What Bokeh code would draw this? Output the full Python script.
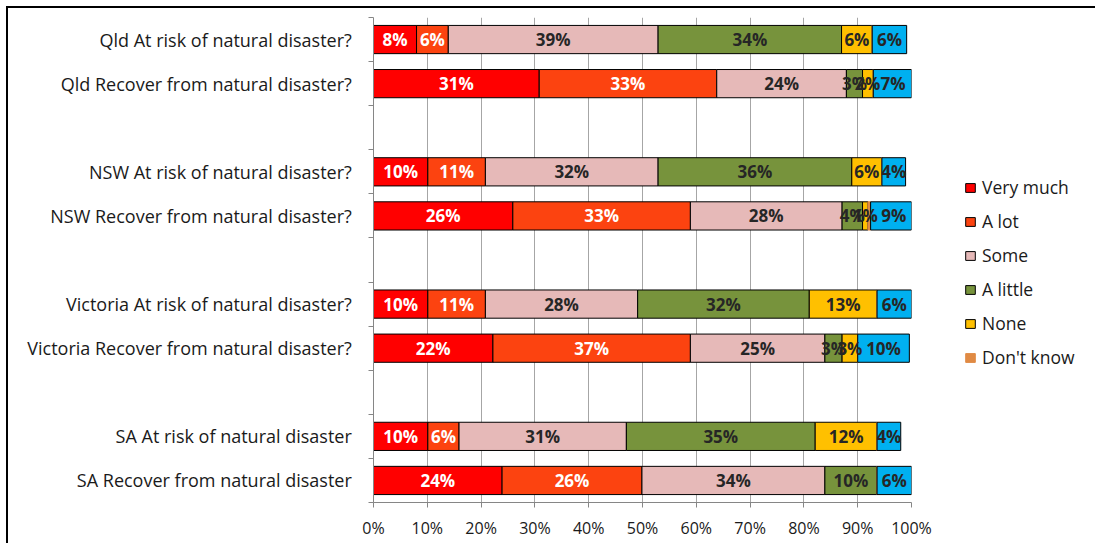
import numpy as np
from bokeh.plotting import figure
from bokeh.models import (ColumnDataSource, Range1d, FixedTicker, PrintfTickFormatter,
                          Legend, LegendItem)
from bokeh.core.properties import value
from bokeh.embed import file_html
from bokeh.resources import INLINE

# ---- data ----
categories = [
    "Qld At risk of natural  disaster?",
    "Qld Recover from natural  disaster?",
    "NSW At risk of natural  disaster?",
    "NSW Recover from natural  disaster?",
    "Victoria At risk of natural  disaster?",
    "Victoria Recover from natural  disaster?",
    "SA At risk of natural  disaster",
    "SA Recover from natural  disaster",
]
very_much = [8.0, 30.8, 10.1, 25.9, 10.1, 22.2, 10.1, 23.9]
a_lot = [5.9, 33.0, 10.7, 33.0, 10.7, 36.7, 5.8, 26.0]
some = [39.0, 24.1, 32.1, 28.2, 28.3, 25.0, 31.1, 34.0]
a_little = [34.1, 3.0, 36.0, 3.8, 31.9, 3.2, 35.1, 9.7]
none = [5.7, 2.0, 5.6, 1.0, 12.6, 2.9, 11.5, 0.0]
dont_know = [0.0, 0.0, 0.0, 0.5, 0.0, 0.0, 0.0, 0.0]
other = [6.4, 7.3, 4.4, 8.6, 6.4, 9.6, 4.4, 6.4]

series_names = ["Very much", "A lot", "Some", "A little", "None", "Don't know", ""]
series_values = [very_much, a_lot, some, a_little, none, dont_know, other]
x_ticks = [0, 10, 20, 30, 40, 50, 60, 70, 80, 90, 100]

# ---- style ----
colors = ["#FF0000", "#FC4310", "#E6B9B8", "#77933C", "#FFC000", "#E08A44", "#00B0F0"]
outline = ["black", "black", "black", "black", "black", "#E08A44", "black"]
label_colors = ["white", "white", "#262626", "#262626", "#262626", "#262626", "#262626"]
FONT = "Open Sans"

# row positions: blank slot between each state group
ypos = [0, 1, 3, 4, 6, 7, 9, 10]
bounds = [i - 0.5 for i in range(12)]

p = figure(output_backend="svg", toolbar_location=None,
           frame_width=538, frame_height=485,
           min_border_left=365, min_border_right=182,
           min_border_top=9, min_border_bottom=41,
           x_range=Range1d(0, 100), y_range=Range1d(10.5, -0.5))
p.styles = {"border-top": "2px solid black", "border-left": "2px solid black",
            "margin-left": "6px", "margin-top": "6px"}
p.background_fill_color = "white"
p.border_fill_color = "white"
p.outline_line_color = None

left = np.zeros(len(categories))
legend_items = []
lx, ly, lt, lc = [], [], [], []
for name, vals, col, oc, tc in zip(series_names, series_values, colors, outline, label_colors):
    vals = np.array(vals, dtype=float)
    src = ColumnDataSource(dict(y=ypos, left=left.copy(), right=left + vals))
    r = p.hbar(y="y", left="left", right="right", height=0.64, source=src,
               fill_color=col, line_color=oc, line_width=1)
    if name:
        legend_items.append(LegendItem(label=name, renderers=[r]))
    for i, v in enumerate(vals):
        if round(v) >= 1:
            lx.append(left[i] + v / 2)
            ly.append(ypos[i])
            lt.append(f"{round(v)}%")
            lc.append(tc)
    left = left + vals

lsrc = ColumnDataSource(dict(x=lx, y=ly, t=lt, c=lc))
p.text(x="x", y="y", text="t", source=lsrc, text_color="c",
       text_align="center", text_baseline="middle",
       text_font=value(FONT), text_font_size="17px", text_font_style="bold")

# y axis
yax = p.yaxis[0]
yax.ticker = FixedTicker(ticks=ypos, minor_ticks=bounds)
yax.major_label_overrides = {y: c for y, c in zip(ypos, categories)}
yax.major_tick_line_color = None
yax.major_tick_out = 0
yax.major_tick_in = 0
yax.minor_tick_out = 5
yax.minor_tick_in = 0
yax.minor_tick_line_color = "#868686"
yax.axis_line_color = "#868686"
yax.major_label_standoff = 12
yax.major_label_text_font = FONT
yax.major_label_text_font_size = "18px"
yax.major_label_text_color = "#1a1a1a"

# x axis
xax = p.xaxis[0]
xax.ticker = FixedTicker(ticks=x_ticks)
xax.formatter = PrintfTickFormatter(format="%d%%")
xax.major_tick_out = 5
xax.major_tick_in = 0
xax.major_tick_line_color = "#868686"
xax.minor_tick_line_color = None
xax.axis_line_color = "#868686"
xax.major_label_standoff = 9
xax.major_label_text_font = FONT
xax.major_label_text_font_size = "16px"
xax.major_label_text_color = "#1a1a1a"

p.xgrid.grid_line_color = "#A6A6A6"
p.xgrid.ticker = FixedTicker(ticks=x_ticks)
p.ygrid.grid_line_color = None

legend = Legend(items=legend_items, location=(53, 133),
                glyph_width=12, glyph_height=11, label_height=20,
                spacing=10, padding=0, margin=0, label_standoff=6,
                label_text_font=FONT, label_text_font_size="17.5px",
                label_text_color="#1a1a1a",
                border_line_color=None, background_fill_alpha=0)
p.add_layout(legend, "right")

open("out.html", "w").write(file_html(p, INLINE))
